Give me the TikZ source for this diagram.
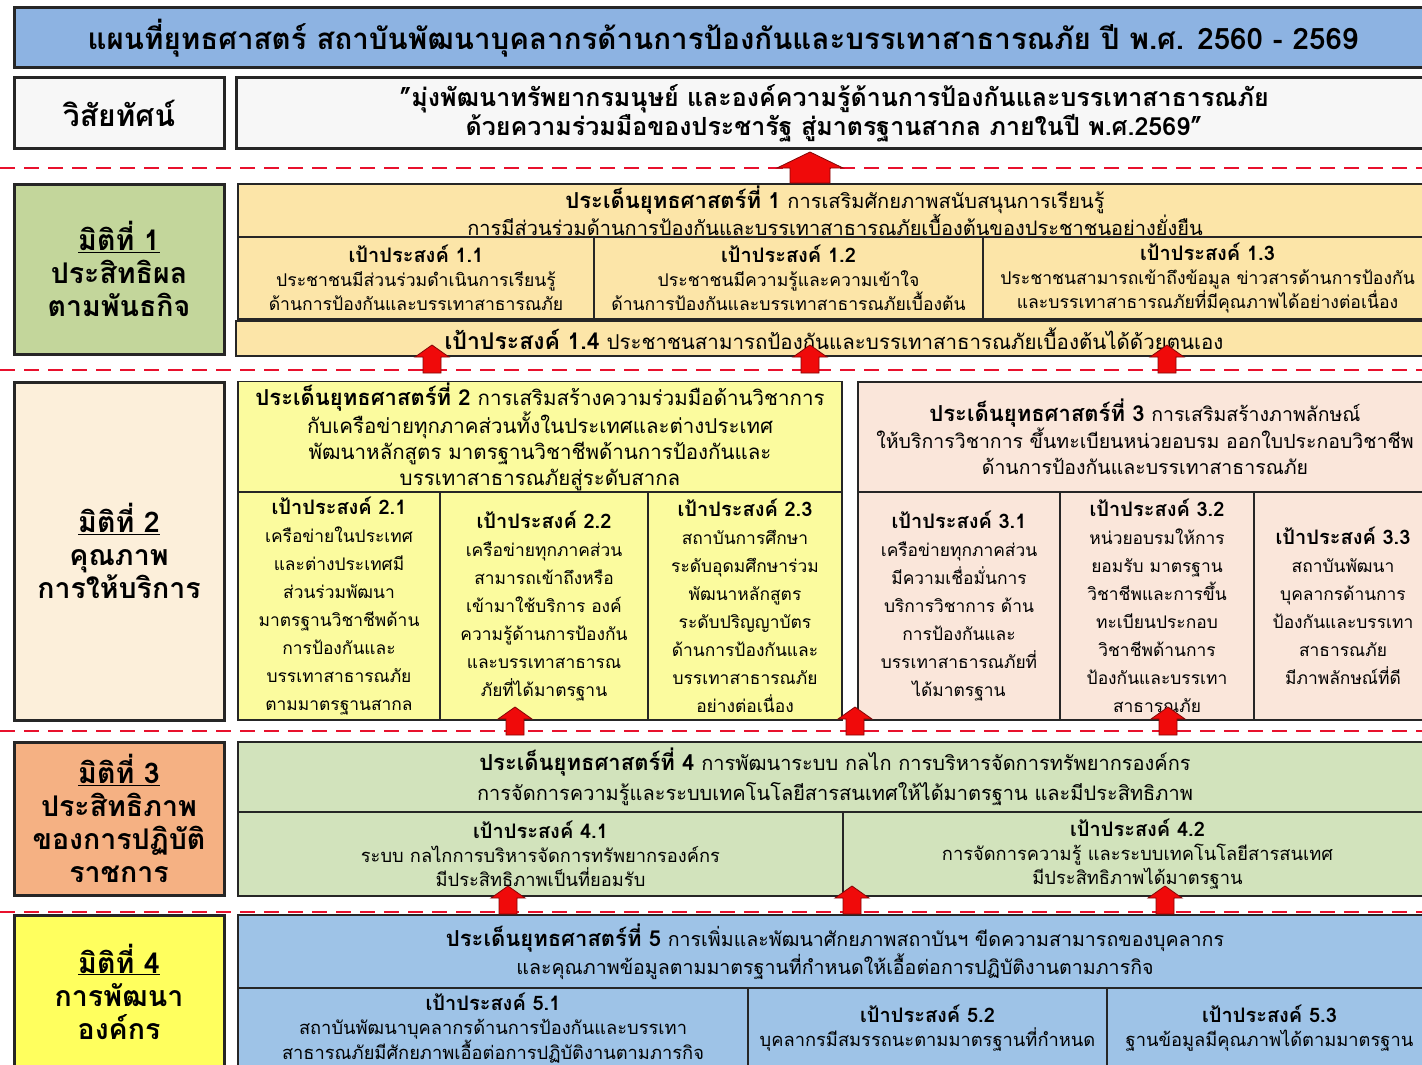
\documentclass[tikz,border=0pt]{standalone}
\usepackage{fontspec}
\setmainfont[Script=Thai]{Loma}
\definecolor{titleblue}{HTML}{8DB3E2}
\definecolor{visfill}{HTML}{F7F7F7}
\definecolor{dimone}{HTML}{C3D69B}
\definecolor{sone}{HTML}{FCE5A8}
\definecolor{dimtwo}{HTML}{FCEFDA}
\definecolor{stwo}{HTML}{FBFB9E}
\definecolor{sthree}{HTML}{FAE6DA}
\definecolor{dimthree}{HTML}{F5B183}
\definecolor{sfour}{HTML}{D2E3BC}
\definecolor{dimfour}{HTML}{FFFF5E}
\definecolor{sfive}{HTML}{9EC3E7}
\definecolor{arrred}{HTML}{F00A0A}
\definecolor{dashred}{HTML}{E8112D}
\newcommand\mybox[7]{\node[#6, minimum width={#4-#2}, minimum height={#5-#3}] (#1) at ({(#2+#4)/2},{(#3+#5)/2}) {#7};}
\newcommand\gh[1]{{\bfseries\fontsize{20}{24}\selectfont #1}}
\newcommand\sh[1]{{\bfseries\fontsize{22}{26}\selectfont #1}}
\begin{document}
\begin{tikzpicture}[x=1pt,y=-1pt,
  bx/.style={draw=black!85, line width=1.3pt, inner sep=1pt, align=center},
  thickbx/.style={draw=black!85, line width=3pt, inner sep=1pt, align=center},
  dimf/.style={font={\fontsize{28.5}{33}\selectfont\bfseries}},
  sep/.style={draw=dashred, line width=2.6pt, dash pattern=on 15pt off 9pt},
  uparr/.pic={\path[fill=arrred, draw=arrred!55!black, line width=0.8pt] (0,0) -- (17,12) -- (9,12) -- (9,28) -- (-9,28) -- (-9,12) -- (-17,12) -- cycle;},
  bigarr/.pic={\path[fill=arrred, draw=arrred!55!black, line width=0.8pt] (0,0) -- (33,16) -- (20,16) -- (20,31) -- (-20,31) -- (-20,16) -- (-33,16) -- cycle;}
]
\useasboundingbox (0,0) rectangle (1422,1065);
\clip (0,0) rectangle (1422,1065);
\fill[white] (0,0) rectangle (1422,1065);

% title and vision
\mybox{title}{14}{8}{1432}{68}{thickbx, fill=titleblue, font={\fontsize{29.5}{32}\selectfont\bfseries}}{แผนที่ยุทธศาสตร์ สถาบันพัฒนาบุคลากรด้านการป้องกันและบรรเทาสาธารณภัย ปี พ.ศ. 2560 - 2569}
\mybox{vislabel}{14}{78}{224}{148}{thickbx, fill=visfill, font={\fontsize{30}{32}\selectfont\bfseries}}{วิสัยทัศน์}
\mybox{vision}{236}{78}{1432}{148}{thickbx, fill=visfill, font={\fontsize{25}{27}\selectfont\bfseries}}{"มุ่งพัฒนาทรัพยากรมนุษย์ และองค์ความรู้ด้านการป้องกันและบรรเทาสาธารณภัย\\ด้วยความร่วมมือของประชารัฐ สู่มาตรฐานสากล ภายในปี พ.ศ.2569"}

% separators
\foreach \yy in {168,370,731,912} \draw[sep] (0,\yy) -- (1422,\yy);

% row 1
\mybox{dim1}{14}{184}{224}{354}{thickbx, fill=dimone, dimf}{\underline{มิติที่ 1}\\ประสิทธิผล\\ตามพันธกิจ}
\mybox{s1}{238}{184}{1432}{237}{bx, fill=sone, font={\fontsize{20}{27}\selectfont}}{\sh{ประเด็นยุทธศาสตร์ที่ 1} การเสริมศักยภาพสนับสนุนการเรียนรู้\\การมีส่วนร่วมด้านการป้องกันและบรรเทาสาธารณภัยเบื้องต้นของประชาชนอย่างยั่งยืน}
\mybox{g11}{238}{237}{594}{319}{bx, fill=sone, font={\fontsize{17.6}{24}\selectfont}}{\gh{เป้าประสงค์ 1.1}\\ประชาชนมีส่วนร่วมดำเนินการเรียนรู้\\ด้านการป้องกันและบรรเทาสาธารณภัย}
\mybox{g12}{594}{237}{983}{319}{bx, fill=sone, font={\fontsize{17.6}{24}\selectfont}}{\gh{เป้าประสงค์ 1.2}\\ประชาชนมีความรู้และความเข้าใจ\\ด้านการป้องกันและบรรเทาสาธารณภัยเบื้องต้น}
\mybox{g13}{983}{237}{1432}{319}{bx, fill=sone, font={\fontsize{17.6}{24}\selectfont}}{\gh{เป้าประสงค์ 1.3}\\ประชาชนสามารถเข้าถึงข้อมูล ข่าวสารด้านการป้องกัน\\และบรรเทาสาธารณภัยที่มีคุณภาพได้อย่างต่อเนื่อง}
\mybox{g14}{236}{321}{1432}{356}{bx, fill=sone, font={\fontsize{20.5}{24}\selectfont}}{{\bfseries\fontsize{23}{24}\selectfont เป้าประสงค์ 1.4} ประชาชนสามารถป้องกันและบรรเทาสาธารณภัยเบื้องต้นได้ด้วยตนเอง}

% row 2
\mybox{dim2}{14}{382}{224}{720}{thickbx, fill=dimtwo, dimf}{\underline{มิติที่ 2}\\คุณภาพ\\การให้บริการ}
\mybox{s2}{238}{382}{842}{492}{bx, fill=stwo, font={\fontsize{20.5}{26}\selectfont}}{\sh{ประเด็นยุทธศาสตร์ที่ 2} การเสริมสร้างความร่วมมือด้านวิชาการ\\กับเครือข่ายทุกภาคส่วนทั้งในประเทศและต่างประเทศ\\พัฒนาหลักสูตร มาตรฐานวิชาชีพด้านการป้องกันและ\\บรรเทาสาธารณภัยสู่ระดับสากล}
\mybox{g21}{238}{492}{440}{720}{bx, fill=stwo, font={\fontsize{17.4}{28}\selectfont}}{\gh{เป้าประสงค์ 2.1}\\เครือข่ายในประเทศ\\และต่างประเทศมี\\ส่วนร่วมพัฒนา\\มาตรฐานวิชาชีพด้าน\\การป้องกันและ\\บรรเทาสาธารณภัย\\ตามมาตรฐานสากล}
\mybox{g22}{440}{492}{648}{720}{bx, fill=stwo, font={\fontsize{17.4}{28}\selectfont}}{\gh{เป้าประสงค์ 2.2}\\เครือข่ายทุกภาคส่วน\\สามารถเข้าถึงหรือ\\เข้ามาใช้บริการ องค์\\ความรู้ด้านการป้องกัน\\และบรรเทาสาธารณ\\ภัยที่ได้มาตรฐาน}
\mybox{g23}{648}{492}{842}{720}{bx, fill=stwo, font={\fontsize{17.4}{28}\selectfont}}{\gh{เป้าประสงค์ 2.3}\\สถาบันการศึกษา\\ระดับอุดมศึกษาร่วม\\พัฒนาหลักสูตร\\ระดับปริญญาบัตร\\ด้านการป้องกันและ\\บรรเทาสาธารณภัย\\อย่างต่อเนื่อง}
\mybox{s3}{858}{382}{1432}{492}{bx, fill=sthree, font={\fontsize{19.5}{26}\selectfont}}{\sh{ประเด็นยุทธศาสตร์ที่ 3} การเสริมสร้างภาพลักษณ์\\ให้บริการวิชาการ ขึ้นทะเบียนหน่วยอบรม ออกใบประกอบวิชาชีพ\\ด้านการป้องกันและบรรเทาสาธารณภัย}
\mybox{g31}{858}{492}{1060}{720}{bx, fill=sthree, font={\fontsize{17.4}{28}\selectfont}}{\gh{เป้าประสงค์ 3.1}\\เครือข่ายทุกภาคส่วน\\มีความเชื่อมั่นการ\\บริการวิชาการ ด้าน\\การป้องกันและ\\บรรเทาสาธารณภัยที่\\ได้มาตรฐาน}
\mybox{g32}{1060}{492}{1254}{720}{bx, fill=sthree, font={\fontsize{17.4}{28}\selectfont}}{\gh{เป้าประสงค์ 3.2}\\หน่วยอบรมให้การ\\ยอมรับ มาตรฐาน\\วิชาชีพและการขึ้น\\ทะเบียนประกอบ\\วิชาชีพด้านการ\\ป้องกันและบรรเทา\\สาธารณภัย}
\mybox{g33}{1254}{492}{1432}{720}{bx, fill=sthree, font={\fontsize{17.4}{28}\selectfont}}{\gh{เป้าประสงค์ 3.3}\\สถาบันพัฒนา\\บุคลากรด้านการ\\ป้องกันและบรรเทา\\สาธารณภัย\\มีภาพลักษณ์ที่ดี}

% row 3
\mybox{dim3}{14}{742}{224}{895}{thickbx, fill=dimthree, dimf}{\underline{มิติที่ 3}\\ประสิทธิภาพ\\ของการปฏิบัติ\\ราชการ}
\mybox{s4}{238}{742}{1432}{812}{bx, fill=sfour, font={\fontsize{20}{30}\selectfont}}{\sh{ประเด็นยุทธศาสตร์ที่ 4} การพัฒนาระบบ กลไก การบริหารจัดการทรัพยากรองค์กร\\การจัดการความรู้และระบบเทคโนโลยีสารสนเทศให้ได้มาตรฐาน และมีประสิทธิภาพ}
\mybox{g41}{238}{812}{843}{896}{bx, fill=sfour, font={\fontsize{18.3}{24}\selectfont}}{\gh{เป้าประสงค์ 4.1}\\ระบบ กลไกการบริหารจัดการทรัพยากรองค์กร\\มีประสิทธิภาพเป็นที่ยอมรับ}
\mybox{g42}{843}{812}{1432}{896}{bx, fill=sfour, font={\fontsize{18.3}{24}\selectfont}}{\gh{เป้าประสงค์ 4.2}\\การจัดการความรู้ และระบบเทคโนโลยีสารสนเทศ\\มีประสิทธิภาพได้มาตรฐาน}

% row 4
\mybox{dim4}{14}{915}{224}{1068}{thickbx, fill=dimfour, dimf}{\underline{มิติที่ 4}\\การพัฒนา\\องค์กร}
\mybox{s5}{238}{915}{1432}{988}{bx, fill=sfive, font={\fontsize{19.6}{26}\selectfont}}{\sh{ประเด็นยุทธศาสตร์ที่ 5} การเพิ่มและพัฒนาศักยภาพสถาบันฯ ขีดความสามารถของบุคลากร\\และคุณภาพข้อมูลตามมาตรฐานที่กำหนดให้เอื้อต่อการปฏิบัติงานตามภารกิจ}
\mybox{g51}{238}{988}{748}{1068}{bx, fill=sfive, font={\fontsize{18.3}{24}\selectfont}}{\gh{เป้าประสงค์ 5.1}\\สถาบันพัฒนาบุคลากรด้านการป้องกันและบรรเทา\\สาธารณภัยมีศักยภาพเอื้อต่อการปฏิบัติงานตามภารกิจ}
\mybox{g52}{748}{988}{1107}{1068}{bx, fill=sfive, font={\fontsize{18.3}{24}\selectfont}}{\gh{เป้าประสงค์ 5.2}\\บุคลากรมีสมรรถนะตามมาตรฐานที่กำหนด}
\mybox{g53}{1107}{988}{1432}{1068}{bx, fill=sfive, font={\fontsize{18.3}{24}\selectfont}}{\gh{เป้าประสงค์ 5.3}\\ฐานข้อมูลมีคุณภาพได้ตามมาตรฐาน}

% arrows
\pic at (810,152) {bigarr};
\foreach \xx in {432,810,1167} \pic at (\xx,345) {uparr};
\foreach \xx in {515,855,1168} \pic at (\xx,707) {uparr};
\foreach \xx in {508,852,1165} \pic at (\xx,886) {uparr};
\end{tikzpicture}
\end{document}
